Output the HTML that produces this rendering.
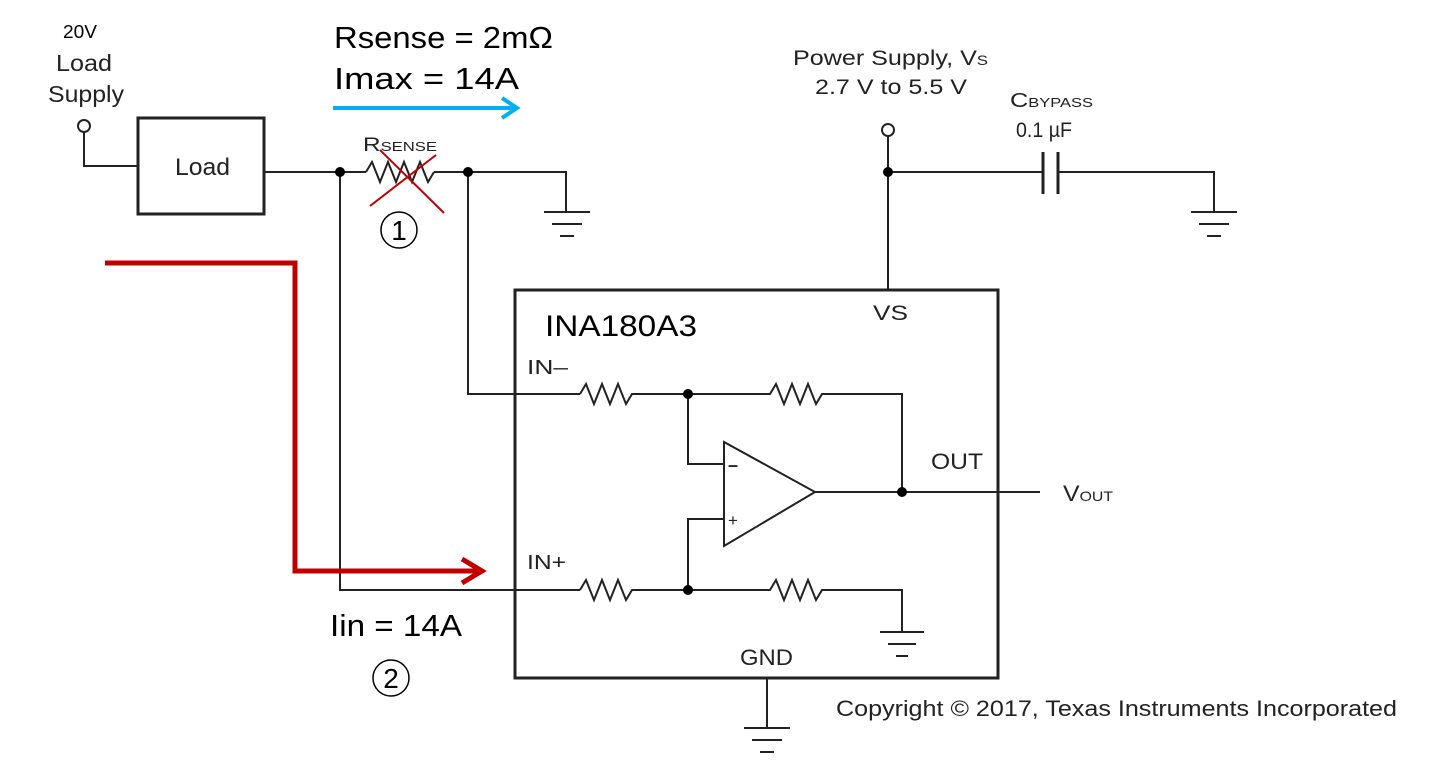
<!DOCTYPE html>
<html><head><style>
body{margin:0;background:#fff;}
svg{display:block;}
.a{font-family:"Liberation Sans",Arial,sans-serif;fill:#222;}
.c{font-family:"Liberation Sans",sans-serif;fill:#000;}
</style></head><body>
<svg width="1454" height="770" viewBox="0 0 1454 770" xmlns="http://www.w3.org/2000/svg">
<g stroke="#222" stroke-width="2" fill="none">
<circle cx="84" cy="126" r="6"/>
<polyline points="84,132 84,166 138,166"/>
<rect x="138" y="118" width="126" height="96" stroke-width="3"/>
<line x1="264" y1="172" x2="366" y2="172"/>
<polyline points="366,172 372,162 380,182 388,162 396,182 404,162 412,182 420,162 428,182 434,172"/>
<polyline points="434,172 566,172 566,212"/>
<line x1="544" y1="212" x2="590" y2="212"/><line x1="552" y1="224" x2="582" y2="224"/><line x1="560" y1="236" x2="574" y2="236"/>
<polyline points="340,172 340,590 580,590"/>
<polyline points="468,172 468,394 580,394"/>
<circle cx="888" cy="130" r="6"/>
<polyline points="888,136 888,290"/>
<line x1="888" y1="172" x2="1043" y2="172"/>
<line x1="1043" y1="152" x2="1043" y2="194" stroke-width="3"/>
<line x1="1058" y1="152" x2="1058" y2="194" stroke-width="3"/>
<polyline points="1058,172 1214,172 1214,212"/>
<line x1="1191" y1="212" x2="1237" y2="212"/><line x1="1199" y1="224" x2="1229" y2="224"/><line x1="1207" y1="236" x2="1221" y2="236"/>
<rect x="515" y="290" width="483" height="388" stroke-width="3"/>
<polyline points="580,394 586,384 594,404 602,384 610,404 618,384 626,404 632,394 688,394"/>
<polyline points="688,394 770,394 776,384 784,404 792,384 800,404 808,384 816,404 822,394 902,394 902,492"/>
<polyline points="688,394 688,464 724,464"/>
<polyline points="580,590 586,580 594,600 602,580 610,600 618,580 626,600 632,590 688,590"/>
<polyline points="688,590 770,590 776,580 784,600 792,580 800,600 808,580 816,600 822,590 902,590 902,632"/>
<line x1="880" y1="632" x2="924" y2="632"/><line x1="888" y1="644" x2="916" y2="644"/><line x1="896" y1="656" x2="908" y2="656"/>
<polyline points="688,590 688,519 724,519"/>
<polygon points="724,442 724,546 815,492"/>
<line x1="815" y1="492" x2="1040" y2="492"/>
<polyline points="767,678 767,728"/>
<line x1="744" y1="728" x2="790" y2="728"/><line x1="752" y1="740" x2="782" y2="740"/><line x1="760" y1="752" x2="774" y2="752"/>
</g>
<g fill="#000">
<circle cx="340" cy="172" r="5"/><circle cx="468" cy="172" r="5"/><circle cx="888" cy="172" r="5"/>
<circle cx="688" cy="394" r="5"/><circle cx="688" cy="590" r="5"/><circle cx="902" cy="492" r="5"/>
</g>
<g stroke="#c00000" stroke-width="2"><line x1="370" y1="206" x2="436" y2="155"/><line x1="380" y1="150" x2="444" y2="213"/></g>
<polyline points="105,263 295,263 295,571 478,571" stroke="#c00000" stroke-width="5" fill="none"/>
<polyline points="462,559 482,571 462,583" stroke="#c00000" stroke-width="5" fill="none"/>
<line x1="333" y1="108" x2="516" y2="108" stroke="#00b0f0" stroke-width="4"/>
<polyline points="502,98 517,108 502,118" stroke="#00b0f0" stroke-width="4" fill="none"/>
<g stroke="#000" stroke-width="1.5" fill="none"><circle cx="399" cy="230" r="18"/><circle cx="391" cy="678" r="18"/></g>
<text class="c" x="399" y="240" font-size="28" text-anchor="middle">1</text>
<text class="c" x="391" y="688" font-size="28" text-anchor="middle">2</text>
<g lengthAdjust="spacingAndGlyphs">
<text class="c" x="63" y="38" font-size="18" textLength="34" lengthAdjust="spacingAndGlyphs">20V</text>
<text class="a" x="56" y="71" font-size="23" textLength="56" lengthAdjust="spacingAndGlyphs">Load</text>
<text class="a" x="48" y="102" font-size="23" textLength="76" lengthAdjust="spacingAndGlyphs">Supply</text>
<text class="a" x="175" y="175" font-size="24" textLength="55" lengthAdjust="spacingAndGlyphs">Load</text>
<text class="a" x="363" y="151" font-size="19" textLength="74" lengthAdjust="spacingAndGlyphs">R<tspan font-size="13">SENSE</tspan></text>
<text class="c" x="334" y="48" font-size="31" textLength="219" lengthAdjust="spacingAndGlyphs">Rsense = 2mΩ</text>
<text class="c" x="334" y="89" font-size="31" textLength="185" lengthAdjust="spacingAndGlyphs">Imax = 14A</text>
<text class="a" x="793" y="65" font-size="21" textLength="195" lengthAdjust="spacingAndGlyphs">Power Supply, V<tspan font-size="14">S</tspan></text>
<text class="a" x="815" y="94" font-size="21" textLength="152" lengthAdjust="spacingAndGlyphs">2.7 V to 5.5 V</text>
<text class="a" x="1010" y="107" font-size="20" textLength="83" lengthAdjust="spacingAndGlyphs">C<tspan font-size="13">BYPASS</tspan></text>
<text class="a" x="1016" y="137" font-size="21" textLength="56" lengthAdjust="spacingAndGlyphs">0.1 µF</text>
<text class="c" x="545" y="336" font-size="30" textLength="152" lengthAdjust="spacingAndGlyphs">INA180A3</text>
<text class="a" x="873" y="320" font-size="21" textLength="35" lengthAdjust="spacingAndGlyphs">VS</text>
<text class="a" x="527" y="374" font-size="20" textLength="41" lengthAdjust="spacingAndGlyphs">IN–</text>
<text class="a" x="527" y="569" font-size="20" textLength="39" lengthAdjust="spacingAndGlyphs">IN+</text>
<text class="a" x="931" y="469" font-size="22" textLength="52" lengthAdjust="spacingAndGlyphs">OUT</text>
<text class="a" x="1063" y="501" font-size="22" textLength="50" lengthAdjust="spacingAndGlyphs">V<tspan font-size="14">OUT</tspan></text>
<text class="a" x="740" y="665" font-size="22" textLength="53" lengthAdjust="spacingAndGlyphs">GND</text>
<text class="c" x="330" y="636" font-size="31" textLength="132" lengthAdjust="spacingAndGlyphs">Iin = 14A</text>
<text class="a" x="836" y="716" font-size="22" textLength="561" lengthAdjust="spacingAndGlyphs">Copyright © 2017, Texas Instruments Incorporated</text>
</g>
<text class="a" x="728" y="471" font-size="18" font-weight="bold">–</text>
<text class="a" x="728" y="526" font-size="17">+</text>
</svg>
</body></html>
